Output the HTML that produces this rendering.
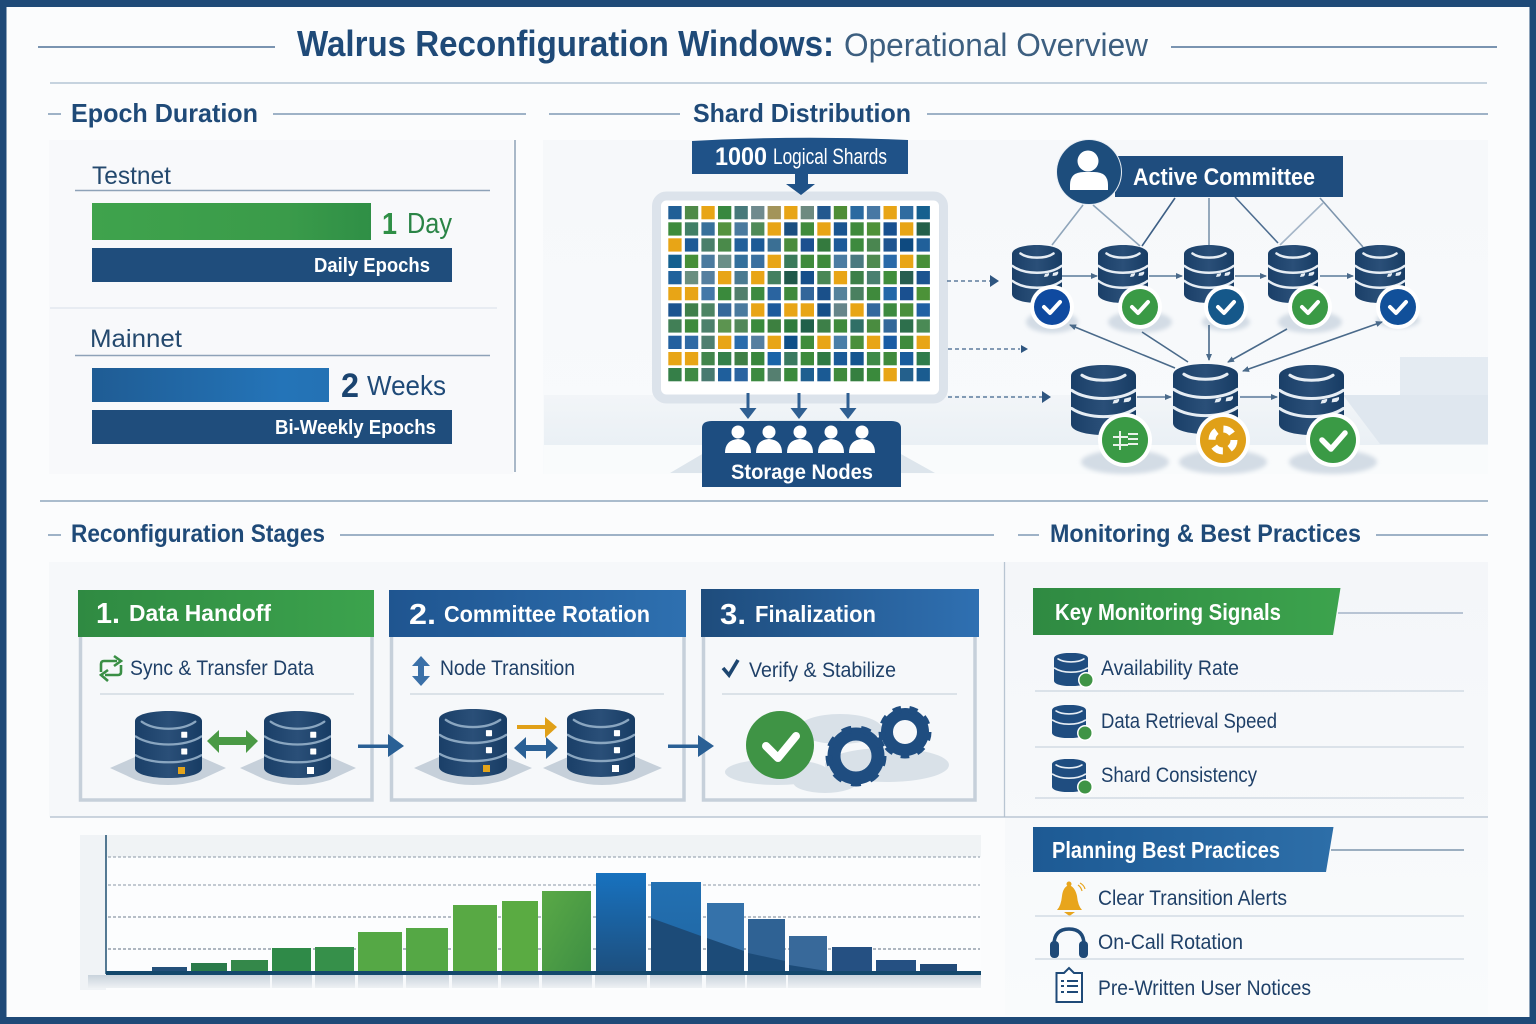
<!DOCTYPE html>
<html lang="en"><head><meta charset="utf-8"><title>Walrus Reconfiguration Windows: Operational Overview</title>
<style>
html,body{margin:0;padding:0;background:#fff;width:1536px;height:1024px;overflow:hidden}
svg{display:block}
text{font-family:"Liberation Sans",sans-serif}
.b{font-weight:700}
.h{font-weight:700;fill:#1f4a78;font-size:26px}
.w{fill:#fff;font-weight:700}
.t{fill:#1f4068;font-size:21px}
.c rect{width:13.3px;height:13.3px}
</style></head><body>
<svg xmlns="http://www.w3.org/2000/svg" width="1536" height="1024" viewBox="0 0 1536 1024">
<defs>
<linearGradient id="g1" x1="0" x2="1"><stop offset="0" stop-color="#2f8a42"/><stop offset="1" stop-color="#3ca34d"/></linearGradient>
<linearGradient id="g2" x1="0" x2="1"><stop offset="0" stop-color="#3fa34c"/><stop offset=".7" stop-color="#3a9b4a"/><stop offset="1" stop-color="#2f8f46"/></linearGradient>
<linearGradient id="g3" x1="0" x2="1"><stop offset="0" stop-color="#1f5c94"/><stop offset=".8" stop-color="#2474b8"/><stop offset="1" stop-color="#2472b4"/></linearGradient>
<linearGradient id="g4" x1="0" x2="1"><stop offset="0" stop-color="#1f5590"/><stop offset="1" stop-color="#2e70b0"/></linearGradient>
<linearGradient id="g5" x1="0" x2="1"><stop offset="0" stop-color="#1e4c7c"/><stop offset="1" stop-color="#2f70b2"/></linearGradient>
<linearGradient id="g7" x1="0" x2="1"><stop offset="0" stop-color="#1d5a94"/><stop offset="1" stop-color="#2d6ea8"/></linearGradient>
<linearGradient id="dbg" x1="0" x2="1"><stop offset="0" stop-color="#1a3f68"/><stop offset=".5" stop-color="#2a4f78"/><stop offset="1" stop-color="#173c64"/></linearGradient>
<linearGradient id="bl1" x1="0" x2="0" y1="0" y2="1"><stop offset="0" stop-color="#1872bf"/><stop offset="1" stop-color="#1d4f7e"/></linearGradient>
<linearGradient id="bl2" x1="0" x2="0" y1="0" y2="1"><stop offset="0" stop-color="#2370b2"/><stop offset="1" stop-color="#1f66a2"/></linearGradient>
<linearGradient id="gr1" x1="0" x2="1" y1="0" y2="1"><stop offset="0" stop-color="#5aa946"/><stop offset="1" stop-color="#3e8f44"/></linearGradient>
<linearGradient id="fade" x1="0" x2="0" y1="0" y2="1"><stop offset="0" stop-color="#c9d3dc"/><stop offset="1" stop-color="#eef1f4"/></linearGradient>
<linearGradient id="pan" x1="0" x2="0" y1="0" y2="1"><stop offset="0" stop-color="#f6f8fa"/><stop offset="1" stop-color="#f8fafc"/></linearGradient>
<linearGradient id="pan2" x1="0" x2="0" y1="0" y2="1"><stop offset="0" stop-color="#f4f6f9"/><stop offset="1" stop-color="#f9fbfc"/></linearGradient>
<linearGradient id="band" x1="0" x2="0" y1="0" y2="1"><stop offset="0" stop-color="#f2f5f8"/><stop offset="1" stop-color="#eaf0f5"/></linearGradient>
<filter id="bl" x="-30%" y="-30%" width="160%" height="160%"><feGaussianBlur stdDeviation="2"/></filter>
<symbol id="db" viewBox="0 0 100 116" preserveAspectRatio="none">
<path d="M0 18C0 -6 100 -6 100 18V98C100 122 0 122 0 98Z" fill="url(#dbg)"/>
<g fill="none" stroke="#e6edf4" stroke-width="5" stroke-linecap="round">
<path d="M17 17C32 28 68 28 83 17"/><path d="M1 42C25 60 75 60 99 42"/><path d="M1 72C25 90 75 90 99 72"/></g>
<path d="M82 56l10-3q2 4-3 8l-8 1zM66 58l8-2q1 4-3 7l-7 1z" fill="#e6edf4"/>
</symbol>
<symbol id="dbs" viewBox="0 0 100 100" preserveAspectRatio="none">
<path d="M0 15C0 -5 100 -5 100 15V85C100 105 0 105 0 85Z" fill="url(#dbg)"/>
<g fill="none" stroke="#8aa6c0" stroke-width="3.500" stroke-linecap="round">
<path d="M10 16C30 30 70 30 90 16"/><path d="M1 38C25 54 75 54 99 38"/><path d="M1 66C25 80 75 80 99 66"/></g>
<rect x="69" y="31" width="9" height="9" rx="1" fill="#fff"/><rect x="69" y="56" width="9" height="9" rx="1" fill="#fff"/>
</symbol>
<symbol id="dbm" viewBox="0 0 100 100" preserveAspectRatio="none">
<path d="M0 16C0 -6 100 -6 100 16V84C100 106 0 106 0 84Z" fill="#1f4d80"/>
<g fill="none" stroke="#e6edf4" stroke-width="5" stroke-linecap="round"><path d="M12 18C30 30 70 30 88 18"/><path d="M2 46C25 62 75 62 98 46"/></g>
</symbol>
<marker id="a" markerWidth="8" markerHeight="8" refX="6" refY="3" orient="auto" markerUnits="userSpaceOnUse"><path d="M0 0L7 3L0 6Z" fill="#4a6a8a"/></marker>
<marker id="as" markerWidth="8" markerHeight="8" refX="1" refY="3" orient="auto" markerUnits="userSpaceOnUse"><path d="M7 0L0 3L7 6Z" fill="#4a6a8a"/></marker>
</defs>

<!-- page frame -->
<rect width="1536" height="1024" fill="#fbfcfd"/>
<rect x="3" y="3.500" width="1530" height="1017" fill="none" stroke="#1f4a78" stroke-width="7"/>

<!-- title -->
<line x1="38" y1="47" x2="275" y2="47" stroke="#4f7298" stroke-width="1.600"/>
<line x1="1171" y1="47" x2="1497" y2="47" stroke="#4f7298" stroke-width="1.600"/>
<text x="297" y="56" class="b" font-size="36" fill="#1f4a78" textLength="537" lengthAdjust="spacingAndGlyphs">Walrus Reconfiguration Windows:</text>
<text x="844" y="56" font-size="32" fill="#3d5f80" textLength="304" lengthAdjust="spacingAndGlyphs">Operational Overview</text>
<line x1="50" y1="83" x2="1487" y2="83" stroke="#b5c5d5" stroke-width="1.500"/>

<!-- section heads row 1 -->
<g stroke="#7f9ab5" stroke-width="1.500">
<line x1="48" y1="114" x2="61" y2="114"/><line x1="273" y1="114" x2="526" y2="114"/>
<line x1="549" y1="114" x2="680" y2="114"/><line x1="927" y1="114" x2="1488" y2="114"/></g>
<text x="71" y="122" class="h" textLength="187" lengthAdjust="spacingAndGlyphs">Epoch Duration</text>
<text x="693" y="122" class="h" textLength="218" lengthAdjust="spacingAndGlyphs">Shard Distribution</text>

<!-- epoch panel -->
<rect x="49" y="140" width="464" height="334" fill="#f8f9fb"/>
<line x1="515" y1="140" x2="515" y2="472" stroke="#8ea2b6" stroke-width="1.500"/>
<text x="92" y="184" font-size="25" fill="#24496e" textLength="79" lengthAdjust="spacingAndGlyphs">Testnet</text>
<line x1="75" y1="190.500" x2="490" y2="190.500" stroke="#8ea2b8" stroke-width="1.500"/>
<rect x="92" y="203" width="279" height="37" fill="url(#g2)"/>
<rect x="92" y="248" width="360" height="34" fill="#1f4d7c"/>
<text x="314" y="272" class="w" font-size="20" textLength="116" lengthAdjust="spacingAndGlyphs">Daily Epochs</text>
<text x="382" y="234" class="b" font-size="31" fill="#2f8f46" textLength="15" lengthAdjust="spacingAndGlyphs">1</text>
<text x="407" y="233" font-size="29" fill="#2a8446" textLength="45" lengthAdjust="spacingAndGlyphs">Day</text>
<line x1="50" y1="308" x2="497" y2="308" stroke="#dfe5ec" stroke-width="1.200"/>
<text x="90" y="347" font-size="25" fill="#24496e" textLength="92" lengthAdjust="spacingAndGlyphs">Mainnet</text>
<line x1="75" y1="355.500" x2="490" y2="355.500" stroke="#8ea2b8" stroke-width="1.500"/>
<rect x="92" y="368" width="237" height="34" fill="url(#g3)"/>
<rect x="92" y="410" width="360" height="34" fill="#1f4d7c"/>
<text x="275" y="434" class="w" font-size="20" textLength="161" lengthAdjust="spacingAndGlyphs">Bi-Weekly Epochs</text>
<text x="341" y="397" class="b" font-size="34" fill="#1b4470" textLength="18" lengthAdjust="spacingAndGlyphs">2</text>
<text x="367" y="395" font-size="28" fill="#1f4a78" textLength="79" lengthAdjust="spacingAndGlyphs">Weeks</text>

<!-- shard panel -->
<rect x="543" y="140" width="945" height="334" fill="url(#pan)"/>
<path d="M544 395H1488V445H544Z" fill="url(#band)"/>
<path d="M1343 395H1488V444H1380Z" fill="#dfe7ef"/>
<rect x="1400" y="357" width="88" height="38" fill="#e4ebf2"/>
<path d="M544 445H1488V474H544Z" fill="#f9fbfc"/>
<path d="M670 473L760 420H840L935 473Z" fill="#dde5ec"/>

<rect x="656.500" y="196" width="287" height="203" rx="10" fill="#fff" stroke="#dce3eb" stroke-width="9"/>
<g class="c">
<rect x="668.300" y="206" fill="#215f96"/><rect x="684.900" y="206" fill="#4f8a48"/><rect x="701.400" y="206" fill="#e8a516"/><rect x="718" y="206" fill="#38883f"/><rect x="734.500" y="206" fill="#47797a"/><rect x="751.100" y="206" fill="#6f8a8e"/><rect x="767.600" y="206" fill="#a3945a"/><rect x="784.200" y="206" fill="#e8a516"/><rect x="800.700" y="206" fill="#6d8a80"/><rect x="817.300" y="206" fill="#22588f"/><rect x="833.800" y="206" fill="#4f8e35"/><rect x="850.400" y="206" fill="#2a6aa0"/><rect x="866.900" y="206" fill="#4878a4"/><rect x="883.500" y="206" fill="#e8a516"/><rect x="900" y="206" fill="#2f6ca0"/><rect x="916.600" y="206" fill="#16608f"/>
<rect x="668.300" y="222.300" fill="#3d8b3c"/><rect x="684.900" y="222.300" fill="#417f66"/><rect x="701.400" y="222.300" fill="#37709a"/><rect x="718" y="222.300" fill="#55933f"/><rect x="734.500" y="222.300" fill="#4a7a9e"/><rect x="751.100" y="222.300" fill="#4f8a58"/><rect x="767.600" y="222.300" fill="#e8a516"/><rect x="784.200" y="222.300" fill="#1b4f80"/><rect x="800.700" y="222.300" fill="#408b3c"/><rect x="817.300" y="222.300" fill="#e8a516"/><rect x="833.800" y="222.300" fill="#1a5590"/><rect x="850.400" y="222.300" fill="#3f8a3c"/><rect x="866.900" y="222.300" fill="#4f9238"/><rect x="883.500" y="222.300" fill="#18508f"/><rect x="900" y="222.300" fill="#e8a516"/><rect x="916.600" y="222.300" fill="#24604a"/>
<rect x="668.300" y="238.300" fill="#e8a516"/><rect x="684.900" y="238.300" fill="#1d5a96"/><rect x="701.400" y="238.300" fill="#4a7f6a"/><rect x="718" y="238.300" fill="#4a8a4a"/><rect x="734.500" y="238.300" fill="#22609a"/><rect x="751.100" y="238.300" fill="#1c5a96"/><rect x="767.600" y="238.300" fill="#3a6f94"/><rect x="784.200" y="238.300" fill="#4a8c3c"/><rect x="800.700" y="238.300" fill="#1c5090"/><rect x="817.300" y="238.300" fill="#347a3e"/><rect x="833.800" y="238.300" fill="#1c5a98"/><rect x="850.400" y="238.300" fill="#3d8a3e"/><rect x="866.900" y="238.300" fill="#4a8650"/><rect x="883.500" y="238.300" fill="#1f5590"/><rect x="900" y="238.300" fill="#0e4a80"/><rect x="916.600" y="238.300" fill="#20609a"/>
<rect x="668.300" y="254.700" fill="#14608f"/><rect x="684.900" y="254.700" fill="#468f38"/><rect x="701.400" y="254.700" fill="#4a7a9e"/><rect x="718" y="254.700" fill="#6a8f88"/><rect x="734.500" y="254.700" fill="#33709c"/><rect x="751.100" y="254.700" fill="#3a70a0"/><rect x="767.600" y="254.700" fill="#e8a516"/><rect x="784.200" y="254.700" fill="#3a7a5a"/><rect x="800.700" y="254.700" fill="#3f8a3c"/><rect x="817.300" y="254.700" fill="#3f8a3c"/><rect x="833.800" y="254.700" fill="#4a7ca2"/><rect x="850.400" y="254.700" fill="#4a7a80"/><rect x="866.900" y="254.700" fill="#4f8a50"/><rect x="883.500" y="254.700" fill="#2a6aa8"/><rect x="900" y="254.700" fill="#e8a516"/><rect x="916.600" y="254.700" fill="#488f38"/>
<rect x="668.300" y="271" fill="#20629c"/><rect x="684.900" y="271" fill="#6a8f80"/><rect x="701.400" y="271" fill="#557f9f"/><rect x="718" y="271" fill="#e8a516"/><rect x="734.500" y="271" fill="#4a7a90"/><rect x="751.100" y="271" fill="#e8a516"/><rect x="767.600" y="271" fill="#448060"/><rect x="784.200" y="271" fill="#20594a"/><rect x="800.700" y="271" fill="#164f8a"/><rect x="817.300" y="271" fill="#4a8755"/><rect x="833.800" y="271" fill="#e8a516"/><rect x="850.400" y="271" fill="#3d8048"/><rect x="866.900" y="271" fill="#4a8070"/><rect x="883.500" y="271" fill="#408e3c"/><rect x="900" y="271" fill="#285e50"/><rect x="916.600" y="271" fill="#1c5490"/>
<rect x="668.300" y="287" fill="#e8a516"/><rect x="684.900" y="287" fill="#e8a516"/><rect x="701.400" y="287" fill="#4478a8"/><rect x="718" y="287" fill="#3a8a3c"/><rect x="734.500" y="287" fill="#527f6c"/><rect x="751.100" y="287" fill="#3d8a40"/><rect x="767.600" y="287" fill="#2a64a0"/><rect x="784.200" y="287" fill="#3f8a3c"/><rect x="800.700" y="287" fill="#33669a"/><rect x="817.300" y="287" fill="#1a508a"/><rect x="833.800" y="287" fill="#55829c"/><rect x="850.400" y="287" fill="#4a8060"/><rect x="866.900" y="287" fill="#3f8a3c"/><rect x="883.500" y="287" fill="#2468a8"/><rect x="900" y="287" fill="#1a5090"/><rect x="916.600" y="287" fill="#4c9238"/>
<rect x="668.300" y="303.300" fill="#1c5490"/><rect x="684.900" y="303.300" fill="#3f7f4a"/><rect x="701.400" y="303.300" fill="#4d8464"/><rect x="718" y="303.300" fill="#36689a"/><rect x="734.500" y="303.300" fill="#4a7a9e"/><rect x="751.100" y="303.300" fill="#e8a516"/><rect x="767.600" y="303.300" fill="#1d5a9c"/><rect x="784.200" y="303.300" fill="#e8a516"/><rect x="800.700" y="303.300" fill="#e8a516"/><rect x="817.300" y="303.300" fill="#164f88"/><rect x="833.800" y="303.300" fill="#66858a"/><rect x="850.400" y="303.300" fill="#e8a516"/><rect x="866.900" y="303.300" fill="#33689e"/><rect x="883.500" y="303.300" fill="#3d8a40"/><rect x="900" y="303.300" fill="#4a8f3c"/><rect x="916.600" y="303.300" fill="#2060a4"/>
<rect x="668.300" y="319.300" fill="#417f56"/><rect x="684.900" y="319.300" fill="#3d8a3c"/><rect x="701.400" y="319.300" fill="#4c806c"/><rect x="718" y="319.300" fill="#5c9450"/><rect x="734.500" y="319.300" fill="#52885a"/><rect x="751.100" y="319.300" fill="#3a8a3c"/><rect x="767.600" y="319.300" fill="#3d8040"/><rect x="784.200" y="319.300" fill="#2f7c3c"/><rect x="800.700" y="319.300" fill="#20604a"/><rect x="817.300" y="319.300" fill="#3d7f48"/><rect x="833.800" y="319.300" fill="#3f8a3c"/><rect x="850.400" y="319.300" fill="#306f66"/><rect x="866.900" y="319.300" fill="#4a8c40"/><rect x="883.500" y="319.300" fill="#33689a"/><rect x="900" y="319.300" fill="#2d6f4c"/><rect x="916.600" y="319.300" fill="#4a8a55"/>
<rect x="668.300" y="335.700" fill="#22609f"/><rect x="684.900" y="335.700" fill="#2f6aa4"/><rect x="701.400" y="335.700" fill="#4f7f70"/><rect x="718" y="335.700" fill="#e8a516"/><rect x="734.500" y="335.700" fill="#2a6cac"/><rect x="751.100" y="335.700" fill="#557fa0"/><rect x="767.600" y="335.700" fill="#e8a516"/><rect x="784.200" y="335.700" fill="#0f4f88"/><rect x="800.700" y="335.700" fill="#3f8c3c"/><rect x="817.300" y="335.700" fill="#e8a516"/><rect x="833.800" y="335.700" fill="#4a7ea8"/><rect x="850.400" y="335.700" fill="#4a8f3c"/><rect x="866.900" y="335.700" fill="#e8a516"/><rect x="883.500" y="335.700" fill="#1a5ca4"/><rect x="900" y="335.700" fill="#3f8a3c"/><rect x="916.600" y="335.700" fill="#e8a516"/>
<rect x="668.300" y="352" fill="#e8a516"/><rect x="684.900" y="352" fill="#e8a516"/><rect x="701.400" y="352" fill="#42854c"/><rect x="718" y="352" fill="#34804a"/><rect x="734.500" y="352" fill="#3f7f46"/><rect x="751.100" y="352" fill="#38863c"/><rect x="767.600" y="352" fill="#1a64a8"/><rect x="784.200" y="352" fill="#3a7a60"/><rect x="800.700" y="352" fill="#3d8a3c"/><rect x="817.300" y="352" fill="#2f7a44"/><rect x="833.800" y="352" fill="#1a5a98"/><rect x="850.400" y="352" fill="#15558f"/><rect x="866.900" y="352" fill="#3f8a48"/><rect x="883.500" y="352" fill="#3f8a3c"/><rect x="900" y="352" fill="#1a5c9c"/><rect x="916.600" y="352" fill="#2f7c4c"/>
<rect x="668.300" y="368" fill="#357f48"/><rect x="684.900" y="368" fill="#3f8a44"/><rect x="701.400" y="368" fill="#487a70"/><rect x="718" y="368" fill="#1f5f9c"/><rect x="734.500" y="368" fill="#2a64a0"/><rect x="751.100" y="368" fill="#3c8a40"/><rect x="767.600" y="368" fill="#557f70"/><rect x="784.200" y="368" fill="#3a8a3c"/><rect x="800.700" y="368" fill="#1f5f90"/><rect x="817.300" y="368" fill="#1a5a94"/><rect x="833.800" y="368" fill="#3f8a3c"/><rect x="850.400" y="368" fill="#357f40"/><rect x="866.900" y="368" fill="#3a8a3c"/><rect x="883.500" y="368" fill="#e8a516"/><rect x="900" y="368" fill="#24608c"/><rect x="916.600" y="368" fill="#1a5c90"/>
</g>

<!-- shards label -->
<path d="M692 141Q800 135 908 140V174H692Z" fill="#1f5288"/>
<path d="M795 174H808V184H815L801 195L786 184H795Z" fill="#1f5288"/>
<text x="715" y="165" class="w" font-size="25" textLength="52" lengthAdjust="spacingAndGlyphs">1000</text>
<text x="773" y="164" fill="#fff" font-size="22" textLength="114" lengthAdjust="spacingAndGlyphs">Logical Shards</text>

<!-- storage arrows + box -->
<g fill="#2f5f92"><path d="M746.500 393h3v15h7l-8.500 11l-8.500-11h7z"/><path d="M797.500 393h3v15h7l-8.500 11l-8.500-11h7z"/><path d="M846.500 393h3v15h7l-8.500 11l-8.500-11h7z"/></g>
<path d="M702 428Q702 421 712 421H891Q901 421 901 428V487H702Z" fill="#1d4d80"/>
<g fill="#fff">
<circle cx="738" cy="432" r="6.500"/><path d="M725 453Q725 440 738 439Q751 440 751 453Z"/>
<circle cx="769" cy="432" r="6.500"/><path d="M756 453Q756 440 769 439Q782 440 782 453Z"/>
<circle cx="800" cy="432" r="6.500"/><path d="M787 453Q787 440 800 439Q813 440 813 453Z"/>
<circle cx="831" cy="432" r="6.500"/><path d="M818 453Q818 440 831 439Q844 440 844 453Z"/>
<circle cx="862" cy="432" r="6.500"/><path d="M849 453Q849 440 862 439Q875 440 875 453Z"/>
</g>
<text x="731" y="479" class="w" font-size="21" textLength="142" lengthAdjust="spacingAndGlyphs">Storage Nodes</text>

<!-- dashed arrows -->
<g stroke="#3f638a" stroke-width="1.300" stroke-dasharray="4 3" fill="none">
<line x1="947" y1="281" x2="990" y2="281"/><line x1="948" y1="349" x2="1020" y2="349"/><line x1="948" y1="397" x2="1042" y2="397"/></g>
<path d="M990 275L999 281L990 287Z" fill="#2f5680"/><path d="M1021 345L1028 349L1021 353Z" fill="#2f5680"/><path d="M1042 391L1051 397L1042 403Z" fill="#2f5680"/>

<!-- committee connectors -->
<g fill="none" stroke-width="1.600">
<line x1="1083" y1="205" x2="1052" y2="245" stroke="#8fa5ba"/>
<line x1="1093" y1="205" x2="1140" y2="246" stroke="#8fa5ba"/>
<line x1="1175" y1="198" x2="1142" y2="246" stroke="#3d5f85"/>
<line x1="1209" y1="198" x2="1209" y2="245" stroke="#7d95ad"/>
<line x1="1235" y1="197" x2="1278" y2="243" stroke="#4d6d90"/>
<line x1="1323" y1="203" x2="1280" y2="245" stroke="#a5b6c8"/>
<line x1="1320" y1="198" x2="1363" y2="247" stroke="#7d95ad"/>
</g>
<!-- badge shadows -->
<g fill="#d3dce5" filter="url(#bl)">
<ellipse cx="1052" cy="322" rx="26" ry="11"/><ellipse cx="1140" cy="322" rx="32" ry="11"/><ellipse cx="1226" cy="322" rx="24" ry="9"/><ellipse cx="1310" cy="322" rx="32" ry="11"/><ellipse cx="1398" cy="320" rx="22" ry="8"/>
<ellipse cx="1125" cy="462" rx="44" ry="12"/><ellipse cx="1223" cy="462" rx="44" ry="12"/><ellipse cx="1333" cy="462" rx="44" ry="12"/>
</g>
<use href="#db" x="1012" y="245" width="50" height="58"/><use href="#db" x="1098" y="245" width="50" height="58"/><use href="#db" x="1184" y="245" width="50" height="58"/><use href="#db" x="1268" y="245" width="50" height="58"/><use href="#db" x="1355" y="245" width="50" height="58"/>
<g stroke="#5a7a9a" stroke-width="1.500">
<line x1="1062" y1="276" x2="1097" y2="276" marker-end="url(#a)"/><line x1="1149" y1="276" x2="1182" y2="276" marker-end="url(#a)"/><line x1="1235" y1="276" x2="1266" y2="276" marker-end="url(#a)"/><line x1="1320" y1="276" x2="1353" y2="276" marker-end="url(#a)"/></g>
<!-- badges row 1 -->
<g><circle cx="1052" cy="307" r="22" fill="#fff"/><circle cx="1052" cy="307" r="18" fill="#0f4aa0"/>
<circle cx="1140" cy="307" r="22" fill="#fff"/><circle cx="1140" cy="307" r="18" fill="#3a9a45"/>
<circle cx="1226" cy="307" r="22" fill="#fff"/><circle cx="1226" cy="307" r="18" fill="#15588a"/>
<circle cx="1310" cy="307" r="22" fill="#fff"/><circle cx="1310" cy="307" r="18" fill="#3a9a45"/>
<circle cx="1398" cy="307" r="22" fill="#fff"/><circle cx="1398" cy="307" r="18" fill="#11509a"/></g>
<g fill="none" stroke="#fff" stroke-width="4" stroke-linecap="round" stroke-linejoin="round">
<path d="M1044 307l6 6l10-11"/><path d="M1132 307l6 6l10-11"/><path d="M1218 307l6 6l10-11"/><path d="M1302 307l6 6l10-11"/><path d="M1390 307l6 6l10-11"/></g>
<!-- cross connectors -->
<g fill="none" stroke="#4a6a8a" stroke-width="1.600">
<line x1="1070" y1="325" x2="1175" y2="368" marker-start="url(#as)"/>
<line x1="1142" y1="332" x2="1188" y2="362"/>
<line x1="1209" y1="325" x2="1209" y2="360" marker-end="url(#a)"/>
<line x1="1287" y1="329" x2="1228" y2="362" marker-end="url(#a)"/>
<line x1="1382" y1="322" x2="1243" y2="371" marker-start="url(#as)" marker-end="url(#a)"/>
</g>
<!-- db row 2 -->
<use href="#db" x="1071" y="365" width="65" height="70"/><use href="#db" x="1173" y="364" width="65" height="70"/><use href="#db" x="1279" y="365" width="65" height="70"/>
<line x1="1137" y1="397" x2="1171" y2="397" stroke="#5a7a9a" stroke-width="1.500" marker-end="url(#a)"/>
<line x1="1240" y1="397" x2="1277" y2="397" stroke="#5a7a9a" stroke-width="1.500" marker-end="url(#a)"/>
<circle cx="1125" cy="440" r="27" fill="#fff"/><circle cx="1125" cy="440" r="23" fill="#3a9a45"/>
<circle cx="1223" cy="440" r="27" fill="#fff"/><circle cx="1223" cy="440" r="23" fill="#e0a018"/>
<circle cx="1333" cy="440" r="27" fill="#fff"/><circle cx="1333" cy="440" r="23" fill="#3a9a45"/>
<g stroke="#e8f2e8" stroke-width="2" fill="none"><path d="M1113 437H1128M1113 445H1128M1120 431V450M1128 434H1138M1128 439H1138M1128 444H1138"/></g>
<circle cx="1223" cy="440" r="11" fill="none" stroke="#fff" stroke-width="7" stroke-dasharray="10 7.300"/>
<path d="M1322 440l9 9l14-16" fill="none" stroke="#fff" stroke-width="5.500" stroke-linecap="round" stroke-linejoin="round"/>
<!-- committee banner -->
<rect x="1115" y="156" width="228" height="41" fill="#1f4d7e"/>
<circle cx="1089" cy="172" r="33" fill="#e8eef4"/><circle cx="1089" cy="172" r="32" fill="#1d4d7c"/>
<circle cx="1088" cy="161" r="10.500" fill="#fff"/><path d="M1070 190V185Q1070 172 1084 172H1094Q1108 172 1108 185V190Z" fill="#fff"/>
<text x="1133" y="185" class="w" font-size="24" textLength="182" lengthAdjust="spacingAndGlyphs">Active Committee</text>

<!-- divider -->
<line x1="40" y1="501" x2="1488" y2="501" stroke="#8fa6bd" stroke-width="1.500"/>
<g stroke="#7f9ab5" stroke-width="1.500">
<line x1="48" y1="535" x2="61" y2="535"/><line x1="340" y1="535" x2="994" y2="535"/>
<line x1="1018" y1="535" x2="1039" y2="535"/><line x1="1376" y1="535" x2="1488" y2="535"/></g>
<text x="71" y="542" class="h" style="font-size:25px" textLength="254" lengthAdjust="spacingAndGlyphs">Reconfiguration Stages</text>
<text x="1050" y="542" class="h" style="font-size:25px" textLength="311" lengthAdjust="spacingAndGlyphs">Monitoring &amp; Best Practices</text>

<!-- panels -->
<rect x="49" y="562" width="955" height="255" fill="#f6f8fa"/>
<rect x="1005" y="562" width="483" height="453" fill="url(#pan2)"/>
<line x1="1004.500" y1="562" x2="1004.500" y2="817" stroke="#b8c5d2" stroke-width="1.300"/>
<line x1="50" y1="817" x2="1488" y2="817" stroke="#aebdcc" stroke-width="1.300"/>

<!-- stage cards -->
<g fill="none" stroke="#c6d0da" stroke-width="3.500">
<path d="M80.500 637V800H372V637"/><path d="M391.500 637V800H684V637"/><path d="M703.500 637V800H975V637"/></g>
<rect x="78" y="590" width="296" height="47" fill="url(#g1)"/>
<rect x="389" y="590" width="297" height="47" fill="url(#g4)"/>
<rect x="701" y="589" width="278" height="48" fill="url(#g5)"/>
<text x="96" y="623" class="w" font-size="29" textLength="24" lengthAdjust="spacingAndGlyphs">1.</text>
<text x="129" y="621" class="w" font-size="23" textLength="142" lengthAdjust="spacingAndGlyphs">Data Handoff</text>
<text x="409" y="624" class="w" font-size="29" textLength="27" lengthAdjust="spacingAndGlyphs">2.</text>
<text x="444" y="622" class="w" font-size="23" textLength="206" lengthAdjust="spacingAndGlyphs">Committee Rotation</text>
<text x="720" y="624" class="w" font-size="29" textLength="26" lengthAdjust="spacingAndGlyphs">3.</text>
<text x="755" y="622" class="w" font-size="23" textLength="121" lengthAdjust="spacingAndGlyphs">Finalization</text>

<!-- sub rows -->
<path d="M101 672V664Q101 661 104 661H117M114 656L121 661L114 666M121 665V672Q121 675 118 675H105M108 670L101 675L108 681" fill="none" stroke="#3a8f45" stroke-width="2.600"/>
<text x="130" y="675" class="t" textLength="184" lengthAdjust="spacingAndGlyphs">Sync &amp; Transfer Data</text>
<line x1="100" y1="694" x2="354" y2="694" stroke="#cbd4dd" stroke-width="1.300"/>
<path d="M421 656L430 666H424V676H430L421 686L412 676H418V666H412Z" fill="#3a70a8"/>
<text x="440" y="675" class="t" textLength="135" lengthAdjust="spacingAndGlyphs">Node Transition</text>
<line x1="410" y1="694" x2="664" y2="694" stroke="#cbd4dd" stroke-width="1.300"/>
<path d="M723 668L729 675L738 660" fill="none" stroke="#1d4670" stroke-width="3.600"/>
<text x="749" y="677" class="t" textLength="147" lengthAdjust="spacingAndGlyphs">Verify &amp; Stabilize</text>
<line x1="722" y1="694" x2="957" y2="694" stroke="#cbd4dd" stroke-width="1.300"/>

<!-- stage DBs -->
<g fill="#c6d0da">
<path d="M110 768L135 757H201L226 768L200 780Q168 790 136 780Z"/><path d="M240 768L265 757H331L356 768L330 780Q298 790 266 780Z"/>
<path d="M414 768L439 757H505L532 768L505 780Q473 790 441 780Z"/><path d="M543 768L568 757H636L662 768L634 780Q602 790 570 780Z"/></g>
<use href="#dbs" x="135" y="711" width="67" height="67"/><use href="#dbs" x="264" y="711" width="67" height="67"/>
<use href="#dbs" x="439" y="709" width="68" height="68"/><use href="#dbs" x="567" y="709" width="68" height="68"/>
<rect x="178" y="767" width="7" height="7" fill="#e3a41b"/><rect x="307" y="767" width="7" height="7" fill="#fff"/><rect x="483" y="765" width="7" height="7" fill="#e3a41b"/><rect x="612" y="765" width="7" height="7" fill="#fff"/>

<!-- stage arrows -->
<path d="M207 741L219 730V737H246V730L258 741L246 753V745H219V753Z" fill="#4a9a45"/>
<path d="M517 725H545V717L557 727L545 738V729H517Z" fill="#e0a018"/>
<path d="M514 748L526 737V745H546V737L558 748L546 759V751H526V759Z" fill="#2a6095"/>
<path d="M358 744.500H388V734L404 746L388 757V748H358Z" fill="#2a6095"/>
<path d="M668 744.500H698V735L714 746L698 757V748H668Z" fill="#2a6095"/>

<!-- finalize -->
<g fill="#d9e1e8"><ellipse cx="777" cy="772" rx="52" ry="13"/><ellipse cx="887" cy="765" rx="62" ry="17"/><ellipse cx="840" cy="729" rx="42" ry="15"/><ellipse cx="825" cy="782" rx="32" ry="11"/></g>
<circle cx="780" cy="745" r="34" fill="#3f9445"/>
<path d="M766 746L778 758L796 736" fill="none" stroke="#fff" stroke-width="8" stroke-linecap="round" stroke-linejoin="round"/>
<g fill="none" stroke="#1f4d80">
<circle cx="856" cy="756" r="22" stroke-width="13"/>
<circle cx="856" cy="756" r="27" stroke-width="7" stroke-dasharray="9.400 9.450"/>
<circle cx="905" cy="732" r="18" stroke-width="12"/>
<circle cx="905" cy="732" r="23" stroke-width="7" stroke-dasharray="8 8.060"/>
</g>

<!-- chart -->
<rect x="82" y="835" width="899" height="155" fill="#fcfdfe"/>
<rect x="82" y="835" width="899" height="22" fill="#f0f3f5"/>
<rect x="80" y="835" width="26" height="155" fill="#f0f3f6"/>
<g stroke="#8a97a5" stroke-width="1" stroke-dasharray="3 2">
<line x1="108" y1="857" x2="980" y2="857"/><line x1="108" y1="885" x2="980" y2="885"/><line x1="108" y1="917" x2="980" y2="917" stroke="#6f7f90"/><line x1="108" y1="949" x2="980" y2="949" stroke="#5f7082"/></g>
<rect x="88" y="975" width="893" height="13" fill="url(#fade)"/>
<g fill="#f7f9fb"><rect x="270" y="975" width="2" height="13"/><rect x="312" y="975" width="3" height="13"/><rect x="355" y="975" width="3" height="13"/><rect x="403" y="975" width="3" height="13"/><rect x="449" y="975" width="3" height="13"/><rect x="498" y="975" width="3" height="13"/><rect x="539" y="975" width="3" height="13"/><rect x="592" y="975" width="3" height="13"/><rect x="647" y="975" width="3" height="13"/><rect x="702" y="975" width="4" height="13"/><rect x="745" y="975" width="2" height="13"/><rect x="786" y="975" width="2" height="13"/></g>
<rect x="152" y="967" width="35" height="6" fill="#24507a"/>
<rect x="191" y="963" width="36" height="10" fill="#2a7a4a"/>
<rect x="231" y="960" width="37" height="13" fill="#34884a"/>
<rect x="272" y="948" width="39" height="25" fill="#2f8a48"/>
<rect x="315" y="947" width="39" height="26" fill="#36904a"/>
<rect x="358" y="932" width="44" height="41" fill="#55a845"/>
<rect x="406" y="928" width="42" height="45" fill="#55a845"/>
<rect x="453" y="905" width="44" height="68" fill="#58a944"/>
<rect x="502" y="901" width="36" height="72" fill="#5aab42"/>
<rect x="542" y="891" width="49" height="82" fill="url(#gr1)"/>
<rect x="596" y="873" width="50" height="100" fill="url(#bl1)"/>
<rect x="651" y="882" width="50" height="91" fill="url(#bl2)"/>
<rect x="707" y="903" width="37" height="70" fill="#3572aa"/>
<rect x="748" y="919" width="37" height="54" fill="#2f6294"/>
<rect x="789" y="936" width="38" height="37" fill="#38699a"/>
<g fill="#1c4b78">
<path d="M651 918L701 936V973H651Z"/><path d="M707 938L744 951V973H707Z"/><path d="M748 953L785 961V973H748Z"/><path d="M789 965L827 971V973H789Z"/></g>
<rect x="832" y="947" width="40" height="26" fill="#255082"/>
<rect x="876" y="960" width="40" height="13" fill="#255082"/>
<rect x="920" y="964" width="37" height="9" fill="#224a78"/>
<line x1="106" y1="835" x2="106" y2="974" stroke="#1f4f70" stroke-width="1.500"/>
<rect x="106" y="971" width="875" height="4" fill="#14486c"/>

<!-- monitoring -->
<path d="M1033 588H1340.500L1333 635H1033Z" fill="url(#g1)"/>
<line x1="1338" y1="613" x2="1463" y2="613" stroke="#a4b4c8" stroke-width="1.500"/>
<text x="1055" y="620" class="w" font-size="23" textLength="226" lengthAdjust="spacingAndGlyphs">Key Monitoring Signals</text>
<use href="#dbm" x="1054" y="653" width="34" height="33"/><circle cx="1086" cy="680" r="8" fill="#fff"/><circle cx="1086" cy="680" r="6.500" fill="#3f9445"/>
<text x="1101" y="675" class="t" textLength="138" lengthAdjust="spacingAndGlyphs">Availability Rate</text>
<line x1="1035" y1="691" x2="1464" y2="691" stroke="#cbd5df" stroke-width="1.300"/>
<use href="#dbm" x="1052" y="705" width="34" height="33"/><circle cx="1085" cy="733" r="8" fill="#fff"/><circle cx="1085" cy="733" r="6.500" fill="#3f9445"/>
<text x="1101" y="728" class="t" textLength="176" lengthAdjust="spacingAndGlyphs">Data Retrieval Speed</text>
<line x1="1035" y1="747" x2="1464" y2="747" stroke="#cbd5df" stroke-width="1.300"/>
<use href="#dbm" x="1052" y="759" width="34" height="33"/><circle cx="1085" cy="787" r="8" fill="#fff"/><circle cx="1085" cy="787" r="6.500" fill="#3f9445"/>
<text x="1101" y="782" class="t" textLength="156" lengthAdjust="spacingAndGlyphs">Shard Consistency</text>
<line x1="1035" y1="798" x2="1464" y2="798" stroke="#cbd5df" stroke-width="1.300"/>

<!-- planning -->
<path d="M1033 827H1333.500L1326 872H1033Z" fill="url(#g7)"/>
<line x1="1331" y1="850" x2="1464" y2="850" stroke="#7d95ad" stroke-width="1.500"/>
<text x="1052" y="858" class="w" font-size="23" textLength="228" lengthAdjust="spacingAndGlyphs">Planning Best Practices</text>
<path d="M1057 910Q1061 906 1062 896Q1063 887 1069 885Q1075 887 1077 896Q1078 906 1082 910Z" fill="#e8a51c"/>
<circle cx="1069" cy="884" r="2.500" fill="#e8a51c"/><path d="M1064 912H1075L1069.500 916Z" fill="#e8a51c"/>
<path d="M1078 885Q1081 887 1082 891M1080 883Q1084 885 1085 889" stroke="#e8a51c" stroke-width="1.200" fill="none"/>
<text x="1098" y="905" class="t" textLength="189" lengthAdjust="spacingAndGlyphs">Clear Transition Alerts</text>
<line x1="1035" y1="916" x2="1464" y2="916" stroke="#cbd5df" stroke-width="1.300"/>
<path d="M1054 948V945Q1054 929 1069 929Q1084 929 1084 945V948" fill="none" stroke="#1f4a78" stroke-width="3.500"/>
<rect x="1050" y="941" width="9" height="17" rx="4" fill="#1f4a78"/><rect x="1079" y="941" width="9" height="17" rx="4" fill="#1f4a78"/>
<text x="1098" y="949" class="t" textLength="145" lengthAdjust="spacingAndGlyphs">On-Call Rotation</text>
<line x1="1035" y1="959" x2="1464" y2="959" stroke="#cbd5df" stroke-width="1.300"/>
<path d="M1056.500 973H1064L1069 968L1074 973H1082V1002H1056.500Z" fill="#fff" stroke="#1f4a78" stroke-width="2"/>
<path d="M1061 981H1064M1067 981H1078M1061 986H1064M1067 986H1078M1061 992H1064M1067 992H1078" stroke="#1f4a78" stroke-width="2"/>
<text x="1098" y="995" class="t" textLength="213" lengthAdjust="spacingAndGlyphs">Pre-Written User Notices</text>
</svg>
</body></html>
